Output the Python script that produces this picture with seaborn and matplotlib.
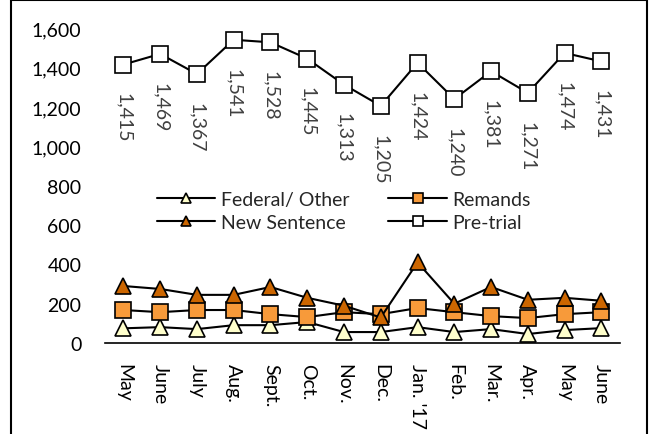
import seaborn as sns
import matplotlib.pyplot as plt
import matplotlib.ticker as mticker
from matplotlib.patches import Rectangle

months = ["May", "June", "July", "Aug.", "Sept.", "Oct.", "Nov.", "Dec.",
          "Jan. '17", "Feb.", "Mar.", "Apr.", "May", "June"]
pretrial = [1415, 1469, 1367, 1541, 1528, 1445, 1313, 1205, 1424, 1240, 1381, 1271, 1474, 1431]
new_sentence = [290, 275, 245, 245, 285, 230, 190, 130, 410, 200, 285, 220, 230, 215]
remands = [168, 157, 168, 168, 147, 132, 157, 147, 178, 157, 137, 127, 147, 157]
federal = [75, 81, 71, 91, 91, 107, 56, 56, 81, 56, 71, 46, 66, 76]

sns.set_style("white")
plt.rcParams['font.family'] = ['Lato', 'DejaVu Sans']

fig = plt.figure(figsize=(6.5, 4.35), dpi=100)
ax = fig.add_axes([0.1615, 0.209, 0.792, 0.724])

x = list(range(len(months)))
series = [
    ("Federal/ Other", federal, "^", "#FFFFCC"),
    ("Remands", remands, "s", "#F79A3A"),
    ("New Sentence", new_sentence, "^", "#CC6600"),
    ("Pre-trial", pretrial, "s", "white"),
]
for name, vals, mk, fc in series:
    sns.lineplot(x=x, y=vals, ax=ax, color="black", linewidth=1.5, marker=mk,
                 markersize=12, markerfacecolor=fc, markeredgecolor="black",
                 markeredgewidth=1.2, label=name)

for xi, v in zip(x, pretrial):
    ax.annotate(f"{v:,}", (xi, v), xytext=(0, -20), textcoords="offset points",
                rotation=-90, ha="center", va="top", fontsize=14, color="#404040")

ax.set_xlim(-0.5, len(months) - 0.5)
ax.set_ylim(0, 1600)
ax.set_yticks(range(0, 1601, 200))
ax.yaxis.set_major_formatter(mticker.FuncFormatter(lambda v, p: f"{int(v):,}"))
ax.set_xticks(x)
ax.set_xticklabels(months, rotation=-90, va="top", ha="center")
ax.tick_params(axis="both", labelsize=14, length=0, colors="black")
ax.tick_params(axis="x", pad=14)
ax.tick_params(axis="y", pad=17)
for s in ["top", "right", "left"]:
    ax.spines[s].set_visible(False)
ax.spines["bottom"].set_color("black")
ax.spines["bottom"].set_linewidth(1.2)

h, l = ax.get_legend_handles_labels()
order = [0, 2, 1, 3]
ax.legend([h[i] for i in order], [l[i] for i in order], ncol=2, frameon=False,
          loc="center", bbox_to_anchor=(0.464, 0.42), fontsize=14, markerscale=0.65,
          handlelength=3.0, columnspacing=2.0, handletextpad=0.3, labelspacing=0.3)

fig.patches.append(Rectangle((0.017, -0.1), 0.978, 1.098, transform=fig.transFigure,
                             fill=False, edgecolor="black", linewidth=1.5))

fig.savefig("out.png", dpi=100)
